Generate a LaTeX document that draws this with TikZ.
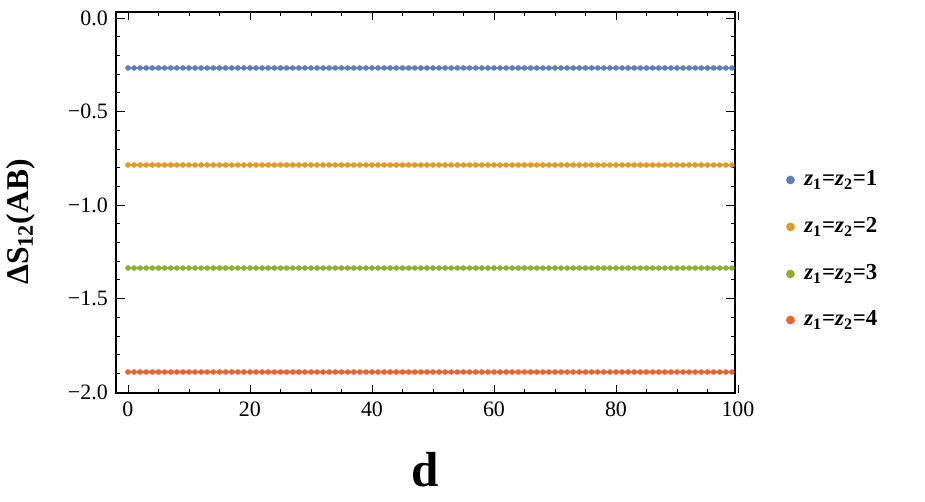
\documentclass[tikz,border=0pt]{standalone}
\usepackage{fontspec}
\setmainfont{Liberation Serif}
\usepackage{tikz}
\usetikzlibrary{positioning}
\definecolor{seriesA}{RGB}{94,129,181}
\definecolor{seriesB}{RGB}{224,156,36}
\definecolor{seriesC}{RGB}{143,176,50}
\definecolor{seriesD}{RGB}{235,98,53}

\begin{document}
\begin{tikzpicture}[x=0.122cm, y=3.74cm,
        frame/.style={draw, line width=0.8pt},
        ticklabel/.style={font=\fontsize{12.5}{14}\selectfont},
        legendtext/.style={font=\bfseries\fontsize{13}{15}\selectfont, anchor=west, inner sep=0pt},
        dotmark/.style={fill, circle, inner sep=0pt, minimum size=3.2pt}
    ]
        \useasboundingbox (-20.98,0.0963) rectangle (130.66,-2.588);

        % Frame
        \draw[frame] (-1.97,0.032) rectangle (99.5,-2.005);

        % x ticks
        \foreach \d in {0,20,...,100} {
            \draw[line width=0.5pt] (\d,-2.005) -- ++(0,0.045);
            \draw[line width=0.5pt] (\d,0.032) -- ++(0,-0.045);
            \node[ticklabel, anchor=north] at (\d,-2.02) {\d};
        }
        \foreach \d in {5,10,...,95} {
            \draw[line width=0.4pt] (\d,-2.005) -- ++(0,0.022);
            \draw[line width=0.4pt] (\d,0.032) -- ++(0,-0.022);
        }

        % y ticks
        \foreach \v/\lab in {0/0.0, -0.5/−0.5, -1/−1.0, -1.5/−1.5, -2/−2.0} {
            \draw[line width=0.5pt] (-1.97,\v) -- ++(1.4,0);
            \draw[line width=0.5pt] (99.5,\v) -- ++(-1.4,0);
            \node[ticklabel, anchor=east] at (-2.3,\v) {\lab};
        }
        \foreach \v in {-0.1,-0.2,-0.3,-0.4,-0.6,-0.7,-0.8,-0.9,-1.1,-1.2,-1.3,-1.4,-1.6,-1.7,-1.8,-1.9} {
            \draw[line width=0.4pt] (-1.97,\v) -- ++(0.7,0);
            \draw[line width=0.4pt] (99.5,\v) -- ++(-0.7,0);
        }

        % Data
        \foreach \c/\v in {seriesA/-0.267, seriesB/-0.786, seriesC/-1.337, seriesD/-1.893} {
            \draw[\c, line width=1pt] (0,\v) -- (99,\v);
            \foreach \d in {0,...,99}
                \node[dotmark, \c] at (\d,\v) {};
        }

        % Axis labels
        \node[font=\bfseries\fontsize{18}{20}\selectfont, rotate=90] (ylab) at (-17.6,-1.09) {ΔS\textsubscript{12}(AB)};
        \node[font=\bfseries\fontsize{28}{32}\selectfont] (xlab) at (48.7,-2.415) {d};

        % Legend
        \foreach \c/\v/\n in {seriesA/-0.866/1, seriesB/-1.117/2, seriesC/-1.369/3, seriesD/-1.615/4} {
            \node[dotmark, \c, minimum size=5pt] (leg\n) at (108.6,\v) {};
            \node[legendtext, right=5pt of leg\n] {\textit{z}\textsubscript{1}=\textit{z}\textsubscript{2}=\n};
        }
    \end{tikzpicture}
\end{document}
